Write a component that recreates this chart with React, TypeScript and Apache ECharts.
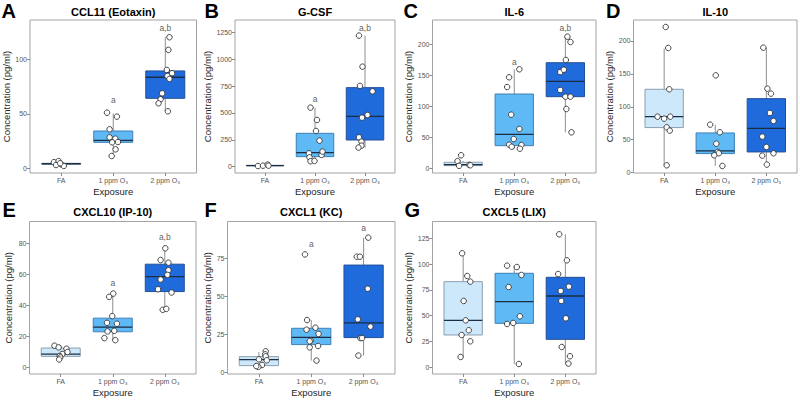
import React, { useEffect, useRef } from "react";
import * as echarts from "echarts";

// ---------- data ----------
const GROUPS = ["FA", "1 ppm O₃", "2 ppm O₃"];
const LETTERS = ["A", "B", "C", "D", "E", "F", "G"];
const TITLES = ["CCL11 (Eotaxin)", "G-CSF", "IL-6", "IL-10", "CXCL10 (IP-10)", "CXCL1 (KC)", "CXCL5 (LIX)"];

// box stats per group: [lower whisker, Q1, median, Q3, upper whisker]
const A_BOX = [[2.2, 3.7, 4.2, 4.6, 6.6], [11.3, 23.8, 25.7, 34.2, 50.4], [52.3, 64.2, 83.5, 89.3, 120.2]];
const A_VALUES = [
  [5.6, 6.6, 3.0, 3.6, 2.2, 4.6],
  [51, 47.4, 35.8, 28.4, 27.2, 23.8, 24.1, 17.4, 11.3],
  [120.2, 108.6, 90.2, 87.2, 84.7, 82, 68.8, 63.3, 59.6, 52.3],
];
const A_JITTER = [
  [-0.14, -0.05, -0.1, 0, 0.05, -0.02],
  [-0.12, 0.07, -0.07, -0.07, 0.04, -0.02, 0.09, 0.045, -0.03],
  [0.08, 0.06, 0.03, 0.13, 0.04, 0.08, -0.06, -0.09, -0.13, 0.05],
];
const A_NOTES: [number, number, string][] = [[1, 62.7, "a"], [2, 129, "a,b"]];

const B_BOX = [[6, 8, 9.5, 13, 19], [50, 93, 130, 310, 549], [177, 248, 468, 735, 1219]];
const B_VALUES = [
  [6, 9, 19, 9],
  [549, 434, 332, 242, 124, 87, 50, 53, 109, 140],
  [1219, 930, 751, 701, 481, 456, 273, 233, 195, 177],
];
const B_JITTER = [
  [-0.14, -0.04, 0.05, 0.07],
  [-0.09, 0.04, 0.02, 0.09, -0.12, -0.11, -0.09, -0.01, 0.13, 0.15],
  [-0.12, -0.05, -0.1, 0.15, 0.05, -0.06, -0.12, -0.07, -0.07, -0.13],
];
const B_NOTES: [number, number, string][] = [[1, 627, "a"], [2, 1293, "a,b"]];

const C_BOX = [[3.8, 4.3, 6, 9.7, 11.8], [31.6, 36.5, 54.8, 119.8, 159.7], [58, 115.5, 140.3, 170.3, 213]];
const C_VALUES = [
  [21, 11.5, 4, 5.4, 4.9],
  [159.7, 146.8, 131.1, 86.5, 63.4, 47.3, 38.1, 34.8, 37.6, 31.6],
  [212.3, 203.7, 174.7, 155.3, 159, 126.3, 115.5, 115.5, 95.6, 58],
];
const C_JITTER = [
  [-0.04, -0.11, -0.08, 0.12, 0.14],
  [0.1, -0.1, -0.14, -0.06, 0.1, -0.01, -0.1, -0.05, 0.14, 0.11],
  [0.04, 0.1, 0.01, -0.1, -0.03, -0.1, 0, 0.1, 0.02, 0.12],
];
const C_NOTES: [number, number, string][] = [[1, 172, "a"], [2, 227, "a,b"]];

const D_BOX = [[11.1, 68.4, 85, 126.6, 188.4], [10.1, 28.9, 32.9, 60.3, 72.9], [12.2, 31.4, 67.3, 112.4, 189.9]];
const D_VALUES = [
  [221.3, 189.4, 126.6, 85, 82, 85, 68.9, 63.8, 11.1],
  [147.8, 72.9, 61.3, 44, 31.4, 29.4, 26.3, 10.1],
  [189.9, 127.6, 120, 90.6, 78.5, 54.7, 39, 29.4, 25.8, 12.2],
];
const D_JITTER = [
  [0.03, 0.08, 0.1, -0.13, 0, 0.12, 0.05, 0.11, 0.05],
  [0.01, -0.1, 0.09, 0.02, 0.05, 0.07, -0.02, 0.14],
  [-0.06, 0.02, 0.09, 0.07, 0.14, -0.08, 0, 0.14, -0.08, 0.01],
];
const D_NOTES: [number, number, string][] = [];

const E_BOX = [[4.9, 6.9, 8.4, 12.3, 13.8], [17.4, 22.8, 25.8, 31.6, 48.2], [37, 48.8, 58.5, 66.5, 76.8]];
const E_VALUES = [
  [13.8, 12.7, 11.8, 9.7, 8.4, 7.1, 6.2, 4.9],
  [47.5, 45.4, 32.9, 28.6, 28, 23, 23.4, 18.7, 17.4],
  [76.8, 69.2, 67.5, 62.6, 59.6, 56.6, 50.3, 48.2, 37, 37.6],
];
const E_JITTER = [
  [-0.12, -0.04, 0.11, 0.13, 0.03, -0.02, -0.01, -0.03],
  [0.01, -0.07, -0.01, -0.11, 0.08, -0.1, 0.03, -0.16, 0.05],
  [0.01, -0.08, 0.07, 0.07, 0.05, -0.08, -0.13, 0.13, -0.04, 0.03],
];
const E_NOTES: [number, number, string][] = [[1, 54.6, "a"], [2, 84.3, "a,b"]];

const F_BOX = [[3.8, 4.6, 8.5, 10.5, 13.5], [7.9, 18.4, 23.2, 29.1, 34.5], [11.2, 23, 32.6, 70.6, 88.6]];
const F_VALUES = [
  [14, 12, 10.7, 8.7, 8.1, 5, 3.8, 4.3],
  [77.6, 34.5, 29.5, 28.2, 25.4, 21, 20.6, 16.6, 17.5, 7.9],
  [88.6, 76.1, 76.1, 55.1, 35, 30.2, 22.7, 22.7, 11.2],
];
const F_JITTER = [
  [0.13, 0.12, 0.13, 0, 0.15, 0.06, -0.01, -0.05],
  [-0.12, -0.08, 0.08, -0.09, 0.14, -0.01, -0.03, -0.03, 0.13, 0.1],
  [0.09, -0.13, -0.07, 0.08, -0.11, 0.13, -0.06, -0.03, -0.1],
];
const F_NOTES: [number, number, string][] = [[1, 84.4, "a"], [2, 94.7, "a"]];

const G_BOX = [[10, 31.3, 45.5, 83, 110.1], [3.2, 42.6, 63.6, 91.1, 98.5], [3.6, 27.1, 69.1, 87.2, 128.9]];
const G_VALUES = [
  [110.5, 88.5, 83, 64.3, 45.5, 35.9, 31.3, 25.2, 10],
  [98.5, 97.2, 89.5, 77.8, 49.4, 43, 42, 3.2],
  [128.9, 103.7, 90.4, 78.2, 74, 64.3, 47.5, 19.7, 10.7, 3.6],
];
const G_JITTER = [
  [-0.02, 0.08, 0.14, 0.01, 0.05, 0.11, -0.03, 0.14, -0.05],
  [-0.14, 0.05, 0.14, -0.11, 0.11, -0.02, -0.14, 0.09],
  [-0.12, 0.03, -0.14, 0.07, -0.09, -0.08, 0.01, -0.07, 0.09, 0.06],
];
const G_NOTES: [number, number, string][] = [];

// y-axis ranges and tick labels per panel
const Y_MIN = [-4.3, -59, -7.6, -0.6, -4.5, -0.9, -6.5];
const Y_MAX = [136, 1364, 239.2, 231.9, 94.1, 99.2, 141.3];
const Y_TICKS = [
  [0, 50, 100],
  [0, 250, 500, 750, 1000, 1250],
  [0, 50, 100, 150, 200],
  [0, 50, 100, 150, 200],
  [0, 20, 40, 60, 80],
  [0, 25, 50, 75],
  [0, 25, 50, 75, 100, 125],
];

const BOXES = [A_BOX, B_BOX, C_BOX, D_BOX, E_BOX, F_BOX, G_BOX];
const VALUES = [A_VALUES, B_VALUES, C_VALUES, D_VALUES, E_VALUES, F_VALUES, G_VALUES];
const JITTER = [A_JITTER, B_JITTER, C_JITTER, D_JITTER, E_JITTER, F_JITTER, G_JITTER];
const NOTES = [A_NOTES, B_NOTES, C_NOTES, D_NOTES, E_NOTES, F_NOTES, G_NOTES];

// ---------- layout & style ----------
const LAYOUT = [
  { left: 30, top: 20, width: 166.5, height: 153, yGap: 16.5, letterX: 1.5, letterY: 10.5, titleY: 11.5 },
  { left: 235, top: 20, width: 160, height: 153, yGap: 21.5, letterX: 204.5, letterY: 10.5, titleY: 11.5 },
  { left: 432.5, top: 20, width: 163.5, height: 153, yGap: 17.5, letterX: 403.5, letterY: 10.5, titleY: 11.5 },
  { left: 633.5, top: 20, width: 163.5, height: 153, yGap: 17.5, letterX: 606, letterY: 10.5, titleY: 11.5 },
  { left: 29.5, top: 221.5, width: 166.5, height: 152.5, yGap: 16, letterX: 2.5, letterY: 209.5, titleY: 211.5 },
  { left: 227.5, top: 221.5, width: 167.5, height: 152.5, yGap: 14, letterX: 204.5, letterY: 209.5, titleY: 211.5 },
  { left: 432.5, top: 221.5, width: 163.5, height: 152.5, yGap: 18, letterX: 404.5, letterY: 209.5, titleY: 211.5 },
];

const FONT = "'Liberation Sans', Arial, Helvetica, sans-serif";
const BOX_FILL = ["#cde8fb", "#5fb9f5", "#1f6bdc"];
const BOX_BORDER = ["#8c9fae", "#3f80b6", "#234f96"];
const MEDIAN = "#1b2d42";
const WHISKER = "#8e8e8e";
const FRAME = "#a3a3a3";

function buildOption() {
  const grid: any[] = [];
  const xAxis: any[] = [];
  const yAxis: any[] = [];
  const series: any[] = [];
  const graphic: any[] = [];

  LAYOUT.forEach((l, i) => {
    grid.push({
      left: l.left, top: l.top, width: l.width, height: l.height,
      show: true, borderColor: FRAME, borderWidth: 1, backgroundColor: "#ffffff",
    });
    xAxis.push({
      gridIndex: i, type: "value", min: -0.6, max: 2.6, position: "bottom",
      axisLine: { show: false, onZero: false }, splitLine: { show: false },
      axisTick: { show: true, customValues: [0, 1, 2], length: 3, lineStyle: { color: "#8a8a8a" } },
      axisLabel: {
        customValues: [0, 1, 2], formatter: (v: number) => GROUPS[Math.round(v)] ?? "",
        fontSize: 7, color: "#555555", margin: 4, fontFamily: FONT,
      },
      name: "Exposure", nameLocation: "middle", nameGap: 13,
      nameTextStyle: { fontSize: 9.5, color: "#1e1e1e", fontFamily: FONT },
    });
    yAxis.push({
      gridIndex: i, type: "value", min: Y_MIN[i], max: Y_MAX[i], position: "left",
      axisLine: { show: false, onZero: false }, splitLine: { show: false },
      axisTick: { show: true, customValues: Y_TICKS[i], length: 3, lineStyle: { color: "#8a8a8a" } },
      axisLabel: {
        customValues: Y_TICKS[i], formatter: (v: number) => String(Math.round(v)),
        fontSize: 7, color: "#555555", margin: 3, fontFamily: FONT,
      },
      name: "Concentration (pg/ml)", nameLocation: "middle", nameGap: l.yGap, nameRotate: 90,
      nameTextStyle: { fontSize: 9.5, color: "#1e1e1e", fontFamily: FONT },
    });

    // boxes
    series.push({
      type: "custom", xAxisIndex: i, yAxisIndex: i, silent: true, z: 2,
      encode: { x: 0, y: [1, 2, 3, 4, 5] },
      data: BOXES[i].map((b, g) => [g, ...b]),
      renderItem: (params: any, api: any) => {
        const x = api.value(0);
        const g = Math.round(x);
        const pLo = api.coord([x, api.value(1)]);
        const pQ1 = api.coord([x, api.value(2)]);
        const pMed = api.coord([x, api.value(3)]);
        const pQ3 = api.coord([x, api.value(4)]);
        const pHi = api.coord([x, api.value(5)]);
        const half = api.size([0.75, 0])[0] / 2;
        const cx = pMed[0];
        return {
          type: "group",
          children: [
            { type: "line", shape: { x1: cx, y1: pHi[1], x2: cx, y2: pQ3[1] }, style: { stroke: WHISKER, lineWidth: 1 } },
            { type: "line", shape: { x1: cx, y1: pQ1[1], x2: cx, y2: pLo[1] }, style: { stroke: WHISKER, lineWidth: 1 } },
            {
              type: "rect",
              shape: { x: cx - half, y: pQ3[1], width: half * 2, height: Math.max(pQ1[1] - pQ3[1], 0.5) },
              style: { fill: BOX_FILL[g], stroke: BOX_BORDER[g], lineWidth: 1 },
            },
            { type: "line", shape: { x1: cx - half, y1: pMed[1], x2: cx + half, y2: pMed[1] }, style: { stroke: MEDIAN, lineWidth: 1.3 } },
          ],
        };
      },
    });

    // jittered points
    const pts: number[][] = [];
    VALUES[i].forEach((vals, g) => vals.forEach((v, k) => pts.push([g + JITTER[i][g][k], v])));
    series.push({
      type: "scatter", xAxisIndex: i, yAxisIndex: i, silent: true, z: 3,
      symbol: "circle", symbolSize: 5.5,
      itemStyle: { color: "#ffffff", borderColor: "#333333", borderWidth: 0.9, opacity: 1 },
      data: pts,
    });

    // significance annotations
    if (NOTES[i].length) {
      series.push({
        type: "scatter", xAxisIndex: i, yAxisIndex: i, silent: true, z: 4,
        symbolSize: 0,
        data: NOTES[i].map((n) => ({ value: [n[0], n[1]], name: n[2] })),
        label: { show: true, position: "inside", formatter: "{b}", fontSize: 8.5, color: "#333333", fontFamily: FONT },
      });
    }

    graphic.push({
      type: "text", x: l.letterX, y: l.letterY,
      style: { text: LETTERS[i], fill: "#000000", fontSize: 20, fontWeight: "bold", fontFamily: FONT, textAlign: "left", textVerticalAlign: "middle" },
    });
    graphic.push({
      type: "text", x: l.left + l.width / 2, y: l.titleY,
      style: { text: TITLES[i], fill: "#000000", fontSize: 11, fontWeight: "bold", fontFamily: FONT, textAlign: "center", textVerticalAlign: "middle" },
    });
  });

  return {
    animation: false,
    backgroundColor: "#ffffff",
    textStyle: { fontFamily: FONT },
    grid, xAxis, yAxis, series, graphic,
  };
}

export default function App() {
  const ref = useRef<HTMLDivElement>(null);
  useEffect(() => {
    if (!ref.current) return;
    const chart = echarts.init(ref.current, null, { renderer: "svg" });
    chart.setOption(buildOption());
    return () => chart.dispose();
  }, []);
  return <div ref={ref} style={{ position: "absolute", left: 0, top: 0, width: 800, height: 400 }} />;
}
